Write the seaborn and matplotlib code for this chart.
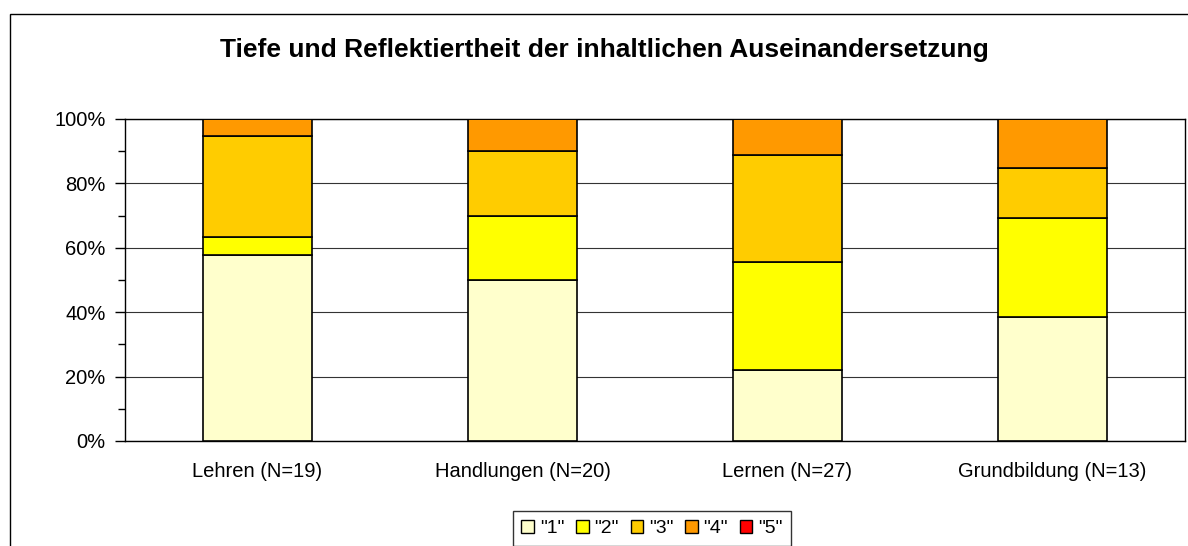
import numpy as np
import pandas as pd
import matplotlib
matplotlib.use("Agg")
import matplotlib.pyplot as plt
from matplotlib.patches import Rectangle, Patch
from matplotlib.ticker import MultipleLocator, PercentFormatter
import seaborn as sns

categories = ["Lehren (N=19)", "Handlungen (N=20)", "Lernen (N=27)", "Grundbildung (N=13)"]
series_names = ['"1"', '"2"', '"3"', '"4"', '"5"']
s1 = [57.9, 50.0, 22.2, 38.5]
s2 = [5.3, 20.0, 33.3, 30.8]
s3 = [31.6, 20.0, 33.3, 15.4]
s4 = [5.2, 10.0, 11.2, 15.3]
s5 = [0.0, 0.0, 0.0, 0.0]
colors = ["#FFFFCC", "#FFFF00", "#FFCC00", "#FF9900", "#FF0000"]
title = "Tiefe und Reflektiertheit der inhaltlichen Auseinandersetzung"

sns.set_style("white")
plt.rcParams['font.family'] = ['Liberation Sans', 'DejaVu Sans']
plt.rcParams['text.color'] = 'black'
plt.rcParams['xtick.color'] = 'black'
plt.rcParams['ytick.color'] = 'black'
plt.rcParams['xtick.labelcolor'] = 'black'
plt.rcParams['ytick.labelcolor'] = 'black'

fig = plt.figure(figsize=(11.88, 5.46), dpi=100)
W, H = 1188, 546
# outer chart frame
fig.patches.append(Rectangle((10 / W, -0.1), 1.2, 1 - 14 / H + 0.1, transform=fig.transFigure,
                             fill=False, edgecolor="black", linewidth=1.0))

ax = fig.add_axes([125 / W, 1 - 441 / H, (1185 - 125) / W, (441 - 119) / H])

series = [s1, s2, s3, s4, s5]
bottom = np.zeros(len(categories))
for name, vals, col in zip(series_names, series, colors):
    df = pd.DataFrame({"cat": categories, "val": vals})
    sns.barplot(data=df, x="cat", y="val", ax=ax, color=col, bottom=bottom,
                width=0.41, edgecolor="black", linewidth=1.2, saturation=1, zorder=3)
    bottom = bottom + np.array(vals)

ax.set_ylim(0, 100)
ax.set_xlim(-0.5, 3.5)
ax.yaxis.set_major_locator(MultipleLocator(20))
ax.yaxis.set_minor_locator(MultipleLocator(10))
ax.yaxis.set_major_formatter(PercentFormatter(decimals=0))
ax.grid(axis="y", which="major", color="#333333", linewidth=0.8, zorder=0)
ax.set_axisbelow(True)
for s in ["left", "bottom", "right", "top"]:
    ax.spines[s].set_visible(True)
    ax.spines[s].set_color("black")
    ax.spines[s].set_linewidth(1.0)
ax.tick_params(axis="y", which="major", direction="out", length=7, width=1, color="black",
               labelsize=14.5, left=True, pad=7)
ax.tick_params(axis="y", which="minor", direction="out", length=5, width=1, color="black", left=True)
ax.tick_params(axis="x", which="both", length=0, labelsize=14.5, pad=15)
ax.set_xlabel("")
ax.set_ylabel("")

fig.text(604 / W, 1 - 50 / H, title, ha="center", va="center", fontsize=19, fontweight="bold")

handles = [Patch(facecolor=c, edgecolor="black", linewidth=1.0, label=n) for n, c in zip(series_names, colors)]
leg = fig.legend(handles=handles, loc="upper center", bbox_to_anchor=(652 / W, 1 - 511 / H),
                 ncol=5, frameon=True, fancybox=False, fontsize=14, handlelength=0.65,
                 handleheight=0.65, handletextpad=0.3, columnspacing=0.6, borderpad=0.45,
                 borderaxespad=0)
leg.get_frame().set_edgecolor("black")
leg.get_frame().set_linewidth(1.0)

fig.savefig("out.png", dpi=100)
